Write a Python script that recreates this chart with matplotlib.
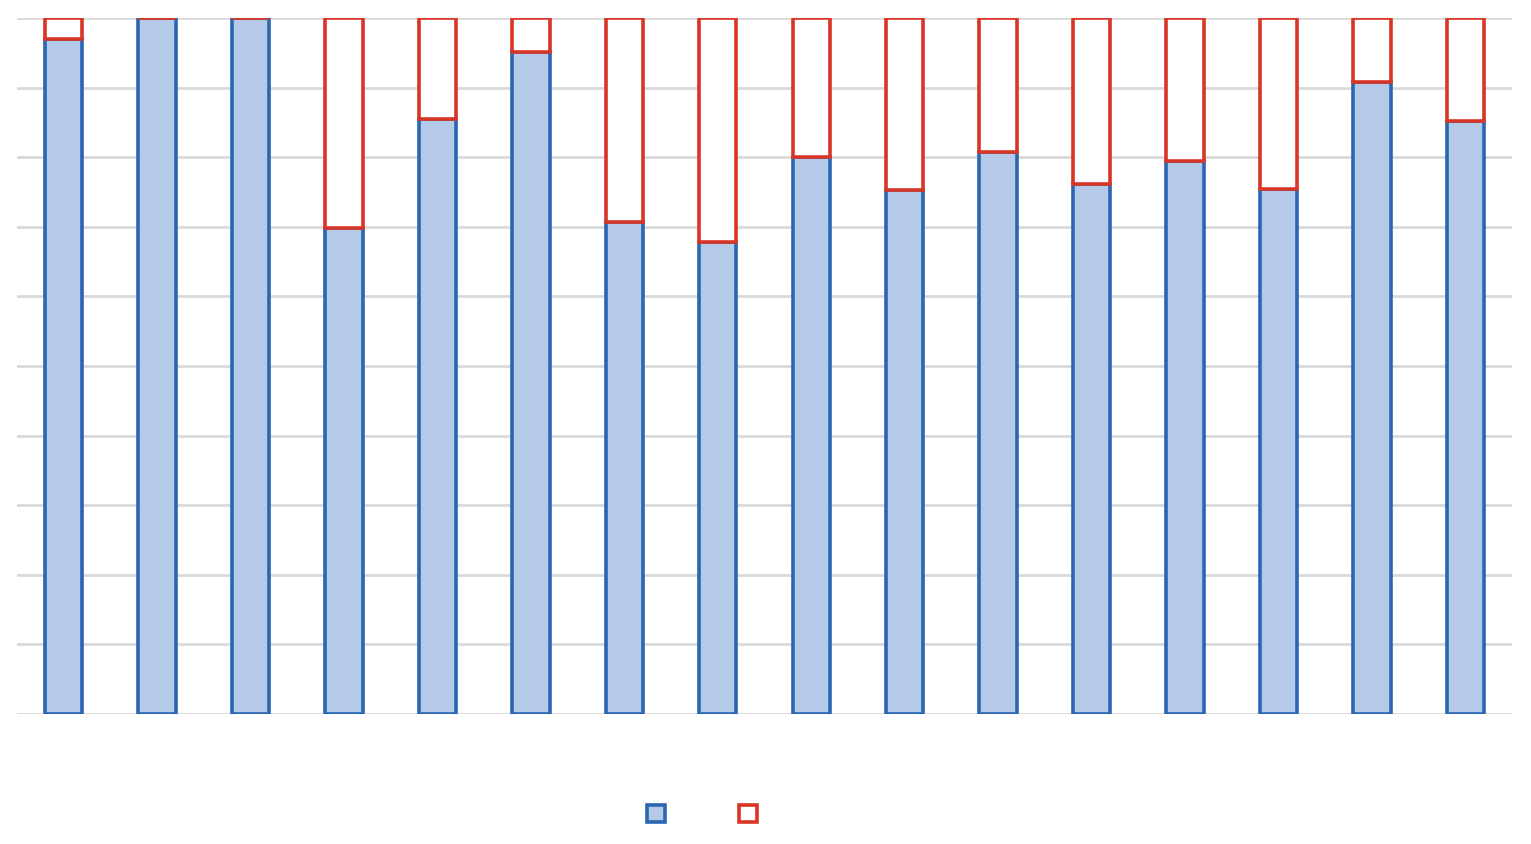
import numpy as np
import matplotlib.pyplot as plt

# ===========================
# Data (percent of total per bar)
# ===========================
categories = list(range(1, 17))
lower_share = [97.0, 100.0, 100.0, 69.8, 85.5, 95.1, 70.7, 67.8,
               80.0, 75.3, 80.7, 76.1, 79.5, 75.4, 90.8, 85.2]
upper_share = [100 - v for v in lower_share]

blue_edge = '#2A66B1'
blue_fill = '#B4CAE8'
red_edge = '#D93527'
grid_color = '#D9D9D9'

# ===========================
# Plot
# ===========================
fig = plt.figure(figsize=(15.31, 8.44), dpi=100)
ax = fig.add_axes([0.0111, 0.154, 0.9765, 0.8247])

x = np.arange(len(categories))
b1 = ax.bar(x, lower_share, width=0.4, color=blue_fill, edgecolor=blue_edge,
            linewidth=2.6, zorder=3)
b2 = ax.bar(x, upper_share, bottom=lower_share, width=0.4, color='white',
            edgecolor=red_edge, linewidth=2.6, zorder=3)

ax.set_xlim(-0.5, len(categories) - 0.5)
ax.set_ylim(0, 100)
ax.set_yticks(np.arange(0, 101, 10))
ax.yaxis.grid(True, color=grid_color, linewidth=2.0, zorder=0)
ax.tick_params(left=False, bottom=False, labelleft=False, labelbottom=False)
for s in ax.spines.values():
    s.set_visible(False)

fig.legend([b1, b2], ['', ''], loc='center', bbox_to_anchor=(0.4585, 0.034),
           ncol=2, frameon=False, handlelength=0.8, handleheight=0.8,
           handletextpad=0.0, columnspacing=3.35, fontsize=16)

plt.savefig('out.png', dpi=100)
